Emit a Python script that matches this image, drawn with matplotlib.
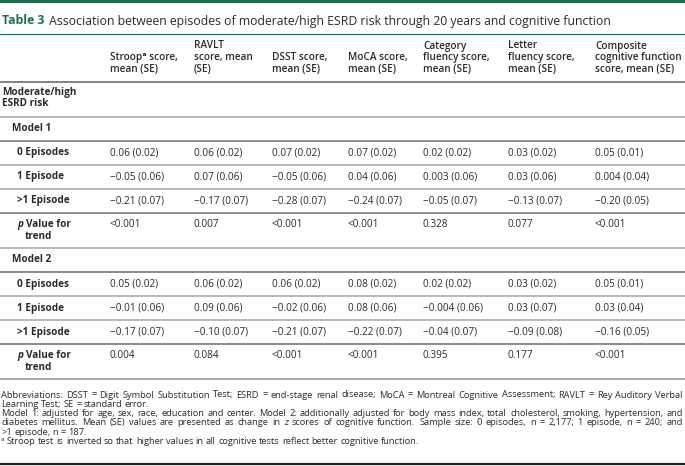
import matplotlib
matplotlib.use("Agg")
import matplotlib.pyplot as plt

plt.rcParams["font.family"] = ["Open Sans", "DejaVu Sans"]

W, H = 685, 466

title_label = "Table 3"
title_text = "Association between episodes of moderate/high ESRD risk through 20 years and cognitive function"

col_headers = [
    ["Stroopᵃ score,", "mean (SE)"],
    ["RAVLT", "score, mean", "(SE)"],
    ["DSST score,", "mean (SE)"],
    ["MoCA score,", "mean (SE)"],
    ["Category", "fluency score,", "mean (SE)"],
    ["Letter", "fluency score,", "mean (SE)"],
    ["Composite", "cognitive function", "score, mean (SE)"],
]
group_label = ["Moderate/high", "ESRD risk"]
model_names = ["Model 1", "Model 2"]
row_labels = ["0 Episodes", "1 Episode", ">1 Episode"]

model1_values = [
    ["0.06 (0.02)", "0.06 (0.02)", "0.07 (0.02)", "0.07 (0.02)", "0.02 (0.02)", "0.03 (0.02)", "0.05 (0.01)"],
    ["−0.05 (0.06)", "0.07 (0.06)", "−0.05 (0.06)", "0.04 (0.06)", "0.003 (0.06)", "0.03 (0.06)", "0.004 (0.04)"],
    ["−0.21 (0.07)", "−0.17 (0.07)", "−0.28 (0.07)", "−0.24 (0.07)", "−0.05 (0.07)", "−0.13 (0.07)", "−0.20 (0.05)"],
]
model1_p = ["<0.001", "0.007", "<0.001", "<0.001", "0.328", "0.077", "<0.001"]

model2_values = [
    ["0.05 (0.02)", "0.06 (0.02)", "0.06 (0.02)", "0.08 (0.02)", "0.02 (0.02)", "0.03 (0.02)", "0.05 (0.01)"],
    ["−0.01 (0.06)", "0.09 (0.06)", "−0.02 (0.06)", "0.08 (0.06)", "−0.004 (0.06)", "0.03 (0.07)", "0.03 (0.04)"],
    ["−0.17 (0.07)", "−0.10 (0.07)", "−0.21 (0.07)", "−0.22 (0.07)", "−0.04 (0.07)", "−0.09 (0.08)", "−0.16 (0.05)"],
]
model2_p = ["0.004", "0.084", "<0.001", "<0.001", "0.395", "0.177", "<0.001"]

# *word* marks italic
footnotes = [
    "Abbreviations: DSST = Digit Symbol Substitution Test; ESRD = end-stage renal disease; MoCA = Montreal Cognitive Assessment; RAVLT = Rey Auditory Verbal",
    "Learning Test; SE = standard error.",
    "Model 1: adjusted for age, sex, race, education and center. Model 2: additionally adjusted for body mass index, total cholesterol, smoking, hypertension, and",
    "diabetes mellitus. Mean (SE) values are presented as change in *z* scores of cognitive function. Sample size: 0 episodes, n = 2,177; 1 episode, n = 240; and",
    ">1 episode, n = 187.",
    "ᵃ Stroop test is inverted so that higher values in all cognitive tests reflect better cognitive function.",
]
justified = [True, False, True, True, False, False]

GREEN = "#1e6e4c"
TXT = "#2b2b2b"
RULE = "#a6a6a6"
RULE_DARK = "#6e6e6e"

BODY = 7.2
TITLE = 8.8

col_x = [110, 194, 272, 348, 423, 508, 595]

fig = plt.figure(figsize=(W / 100, H / 100), dpi=100)
ax = fig.add_axes([0, 0, 1, 1])
ax.set_xlim(0, W)
ax.set_ylim(H, 0)
ax.axis("off")
renderer = fig.canvas.get_renderer()


def width_of(s, **kw):
    # pad with dots so edge spaces and side bearings are counted properly
    t = ax.text(0, 0, "." + s + ".", **kw)
    w = t.get_window_extent(renderer).width
    t.set_text("..")
    w -= t.get_window_extent(renderer).width
    t.remove()
    return w


def put(x, y, s, size=BODY, **kw):
    kw.setdefault("color", TXT)
    ax.text(x, y, s, fontsize=size, va="center", ha="left", **kw)


def rule(y, color=RULE, lw=1.1):
    ax.plot([0, W], [y, y], color=color, lw=lw, solid_capstyle="butt")


# top bar and title
ax.axhspan(0, 3, color=GREEN, lw=0)
put(2, 21, title_label, size=TITLE, color=GREEN, fontweight="bold")
tw = width_of(title_label, fontsize=TITLE, fontweight="bold")
put(2 + tw + 5, 21, title_text, size=TITLE)
ax.plot([0, W], [34, 34], color=GREEN, lw=0.8)

# column headers, bottom aligned
for x, lines in zip(col_x, col_headers):
    n = len(lines)
    for i, line in enumerate(lines):
        put(x, 69 - 11.5 * (n - 1 - i), line, fontweight="semibold")
rule(82, RULE_DARK, 1.2)

put(2, 92, group_label[0], fontweight="bold")
put(2, 103.5, group_label[1], fontweight="bold")


def p_label(y):
    put(17, y, "p", fontstyle="italic", fontweight="bold")
    pw = width_of("p ", fontsize=BODY, fontstyle="italic", fontweight="bold")
    put(17 + pw, y, "Value for", fontweight="bold")
    put(25, y + 12, "trend", fontweight="bold")


def model_block(y0, name, values, pvals):
    rule(y0)
    put(12, y0 + 11.5, name, fontweight="bold")
    y = y0 + 24
    for label, row in zip(row_labels, values):
        rule(y, RULE_DARK if label == row_labels[0] else RULE)
        put(17, y + 12, label, fontweight="bold")
        for x, v in zip(col_x, row):
            put(x, y + 12, v)
        y += 24
    rule(y, RULE_DARK)
    p_label(y + 11.5)
    for x, v in zip(col_x, pvals):
        put(x, y + 11.5, v)
    return y + 35


y_next = model_block(117, model_names[0], model1_values, model1_p)
y_end = model_block(y_next, model_names[1], model2_values, model2_p)
rule(y_end, RULE, 1.3)


# footnotes, word by word, justified like the journal layout
def split_words(line):
    out = []
    for w in line.split(" "):
        if len(w) > 2 and w.startswith("*") and w.endswith("*"):
            out.append((w.strip("*"), "italic"))
        else:
            out.append((w, "normal"))
    return out


base = 6.0
FOOT = min(base * 678 / width_of(footnotes[i].replace("*", ""), fontsize=base)
           for i, j in enumerate(justified) if j)
space_w = width_of(" ", fontsize=FOOT)
fy = 395
for line, just in zip(footnotes, justified):
    words = split_words(line)
    widths = [width_of(w, fontsize=FOOT, fontstyle=st) for w, st in words]
    gap = space_w
    if just:
        gap = (682 - sum(widths)) / (len(words) - 1)
    x = 1
    for (w, st), ww in zip(words, widths):
        put(x, fy, w, size=FOOT, fontstyle=st)
        x += ww + gap
    fy += 9.3

ax.plot([0, W], [463.5, 463.5], color="#222222", lw=1.6)

fig.savefig("out.png", dpi=100)
